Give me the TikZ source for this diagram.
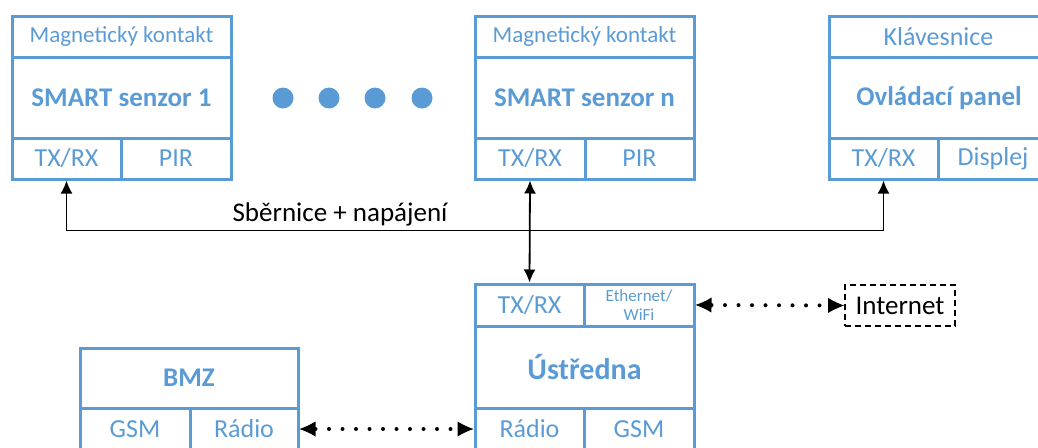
\documentclass[tikz,border=0pt]{standalone}
\usepackage{fontspec}
\setmainfont{Carlito}
\usetikzlibrary{arrows.meta}
\definecolor{cblue}{HTML}{5B9BD5}
\tikzset{
  cell/.style={draw=cblue, line width=3pt, text=cblue, inner sep=0pt, font=\fontsize{26}{28}\selectfont},
  mcell/.style={cell, font=\fontsize{23}{25}\selectfont},
  bcell/.style={cell, font=\bfseries\fontsize{27}{29}\selectfont},
  scell/.style={cell, font=\fontsize{17}{19}\selectfont, align=center},
  dotc/.style={circle, fill=cblue, minimum size=21pt, inner sep=0pt},
  solidarr/.style={line width=1.8pt, {Latex[length=13pt,width=12pt]}-{Latex[length=13pt,width=12pt]}},
  dotarr/.style={line width=4pt, line cap=round, dash pattern=on 0pt off 13.5pt,
     {Latex[length=16pt,width=15pt,line width=0pt]}-{Latex[length=16pt,width=15pt,line width=0pt]}},
  inetbox/.style={draw=black, line width=1.8pt, dash pattern=on 6pt off 4pt, inner sep=0pt,
     font=\fontsize{27}{29}\selectfont},
  lbl/.style={font=\fontsize{27}{29}\selectfont, inner sep=0pt},
  ptxt/.style={text=cblue, inner sep=0pt}
}
\begin{document}
\begin{tikzpicture}[x=1pt,y=-1pt]
\useasboundingbox (0,0) rectangle (1038,447);
\clip (0,0) rectangle (1038,447);
% SMART senzor 1
\node[mcell, minimum width=219pt, minimum height=41pt] (s1mag) at (121.5,36.5) {Magnetický kontakt};
\node[bcell, minimum width=219pt, minimum height=81pt] (s1main) at (121.5,97.5) {SMART senzor 1};
\node[cell, minimum width=109pt, minimum height=41pt] (s1tx) at (66.5,158.5) {TX/RX};
\node[cell, minimum width=110pt, minimum height=41pt] (s1pir) at (176,158.5) {PIR};
% dots
\node[dotc] (d1) at (283,98) {};
\node[dotc] (d2) at (329,98) {};
\node[dotc] (d3) at (375,98) {};
\node[dotc] (d4) at (422,98) {};
% SMART senzor n
\node[mcell, minimum width=219pt, minimum height=41pt] (snmag) at (584.5,36.5) {Magnetický kontakt};
\node[bcell, minimum width=219pt, minimum height=81pt] (snmain) at (584.5,97.5) {SMART senzor n};
\node[cell, minimum width=110pt, minimum height=41pt] (sntx) at (530,158.5) {TX/RX};
\node[cell, minimum width=109pt, minimum height=41pt] (snpir) at (639.5,158.5) {PIR};
% Ovladaci panel
\node[cell, minimum width=219pt, minimum height=41pt] (pkey) at (938.5,36.5) {};
\node[cell, minimum width=219pt, minimum height=81pt] (pmain) at (938.5,97.5) {};
\node[cell, minimum width=109pt, minimum height=41pt] (ptx) at (883.5,158.5) {TX/RX};
\node[cell, minimum width=110pt, minimum height=41pt] (pdisp) at (993,158.5) {};
\node[ptxt, font=\fontsize{26}{28}\selectfont] (pkeyt) at (938.5,37) {Klávesnice};
\node[ptxt, font=\bfseries\fontsize{27}{29}\selectfont] (pmaint) at (939,98) {Ovládací panel};
\node[ptxt, font=\fontsize{26}{28}\selectfont] (pdispt) at (993,159) {Displej};
% Ustredna
\node[cell, minimum width=109pt, minimum height=42pt] (utx) at (529.5,305) {TX/RX};
\node[scell, minimum width=110pt, minimum height=42pt] (ueth) at (639,305) {Ethernet/\\WiFi};
\node[bcell, font=\bfseries\fontsize{30}{32}\selectfont, minimum width=219pt, minimum height=82pt] (umain) at (584.5,367) {Ústředna};
\node[cell, minimum width=109pt, minimum height=42pt] (urad) at (529.5,429) {Rádio};
\node[cell, minimum width=110pt, minimum height=42pt] (ugsm) at (639,429) {GSM};
% BMZ
\node[bcell, minimum width=218pt, minimum height=60pt] (bmain) at (189,378) {BMZ};
\node[cell, minimum width=110pt, minimum height=42pt] (bgsm) at (135,429) {GSM};
\node[cell, minimum width=108pt, minimum height=42pt] (brad) at (244,429) {Rádio};
% Internet
\node[inetbox, minimum width=110pt, minimum height=41pt] (inet) at (900,305.5) {Internet};
% connectors
\draw[solidarr] (s1tx.south) -- ++(0,50) coordinate (busl) -| (ptx.south);
\draw[solidarr] (sntx.south) -- (utx.north);
\node[lbl] (buslbl) at (340,214) {Sběrnice + napájení};
\draw[dotarr] (ueth.east) -- (inet.west);
\draw[dotarr] (brad.east) -- (urad.west);
\end{tikzpicture}
\end{document}
